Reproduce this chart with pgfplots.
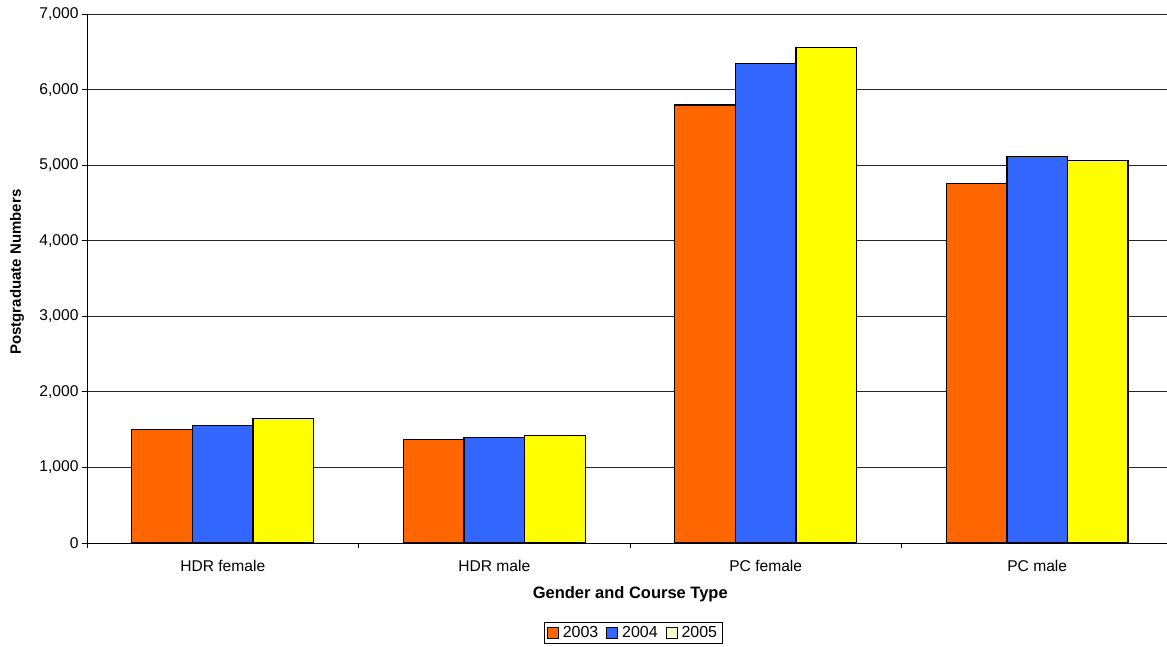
\documentclass[border=0pt]{standalone}
\usepackage{pgfplots}
\pgfplotsset{compat=1.18}
\usepackage{fontspec}
\setmainfont{Liberation Sans}
\definecolor{cOrange}{HTML}{FF6600}
\definecolor{cBlue}{HTML}{3366FF}
\definecolor{cYellow}{HTML}{FFFF00}
\definecolor{cPale}{HTML}{FFFFCC}
\begin{document}
\begin{tikzpicture}
\begin{axis}[
  scale only axis,
  width=1080bp, height=529bp,
  at={(87bp,104bp)}, anchor=south west,
  font=\fontsize{15.6bp}{18bp}\selectfont,
  ybar, bar width=0.223,
  xmin=-0.5, xmax=3.478,
  ymin=0, ymax=7000,
  ytick={0,1000,...,7000},
  scaled y ticks=false,
  /pgf/number format/.cd, 1000 sep={,}, assume math mode=true,
  /pgfplots/.cd,
  xtick={0,1,2,3},
  xticklabels={HDR female, HDR male, PC female, PC male},
  minor xtick={-0.5,0.5,1.5,2.5},
  tick align=outside,
  major tick length=5bp,
  minor tick length=5bp,
  x tick style={draw=none},
  minor x tick style={draw=black, line width=0.8bp},
  y tick style={draw=black, line width=0.8bp},
  xticklabel style={yshift=-9bp},
  axis x line*=bottom,
  axis y line*=left,
  axis line style={line width=1bp, -},
  ymajorgrids,
  major grid style={black!85, line width=0.8bp},
  xlabel={\bfseries Gender and Course Type},
  xlabel style={at={(axis description cs:0.503,-0.0964)}, anchor=center, font=\fontsize{16.5bp}{19bp}\selectfont},
  ylabel={\bfseries Postgraduate Numbers},
  ylabel style={at={(axis description cs:-0.0648,0.512)}, anchor=center, font=\fontsize{15bp}{18bp}\selectfont},
  legend style={at={(axis description cs:0.5056,-0.170)}, anchor=center, draw=black, line width=0.8bp,
    legend columns=3, font=\fontsize{16bp}{18bp}\selectfont, inner xsep=3bp, inner ysep=2bp,
    /tikz/every even column/.append style={column sep=6bp},
    /tikz/every odd column/.append style={column sep=2bp}},
  legend image code/.code={\draw[#1, line width=0.8bp] (0bp,-5.5bp) rectangle (11bp,5.5bp);},
  legend cell align=left,
]
\addplot[forget plot, bar shift=-0.223, fill=cOrange, draw=black, line width=1.1bp]
  coordinates {(0,1504) (1,1372) (2,5796) (3,4752)};
\addplot[forget plot, bar shift=0, fill=cBlue, draw=black, line width=1.1bp]
  coordinates {(0,1558) (1,1394) (2,6350) (3,5115)};
\addplot[forget plot, bar shift=0.223, fill=cYellow, draw=black, line width=1.1bp]
  coordinates {(0,1642) (1,1420) (2,6553) (3,5058)};
\addlegendimage{fill=cOrange, draw=black}
\addlegendentry{2003}
\addlegendimage{fill=cBlue, draw=black}
\addlegendentry{2004}
\addlegendimage{fill=cPale, draw=black}
\addlegendentry{2005}
\end{axis}
\pgfresetboundingbox
\useasboundingbox (0,0) rectangle (1167bp,647bp);
\end{tikzpicture}
\end{document}
